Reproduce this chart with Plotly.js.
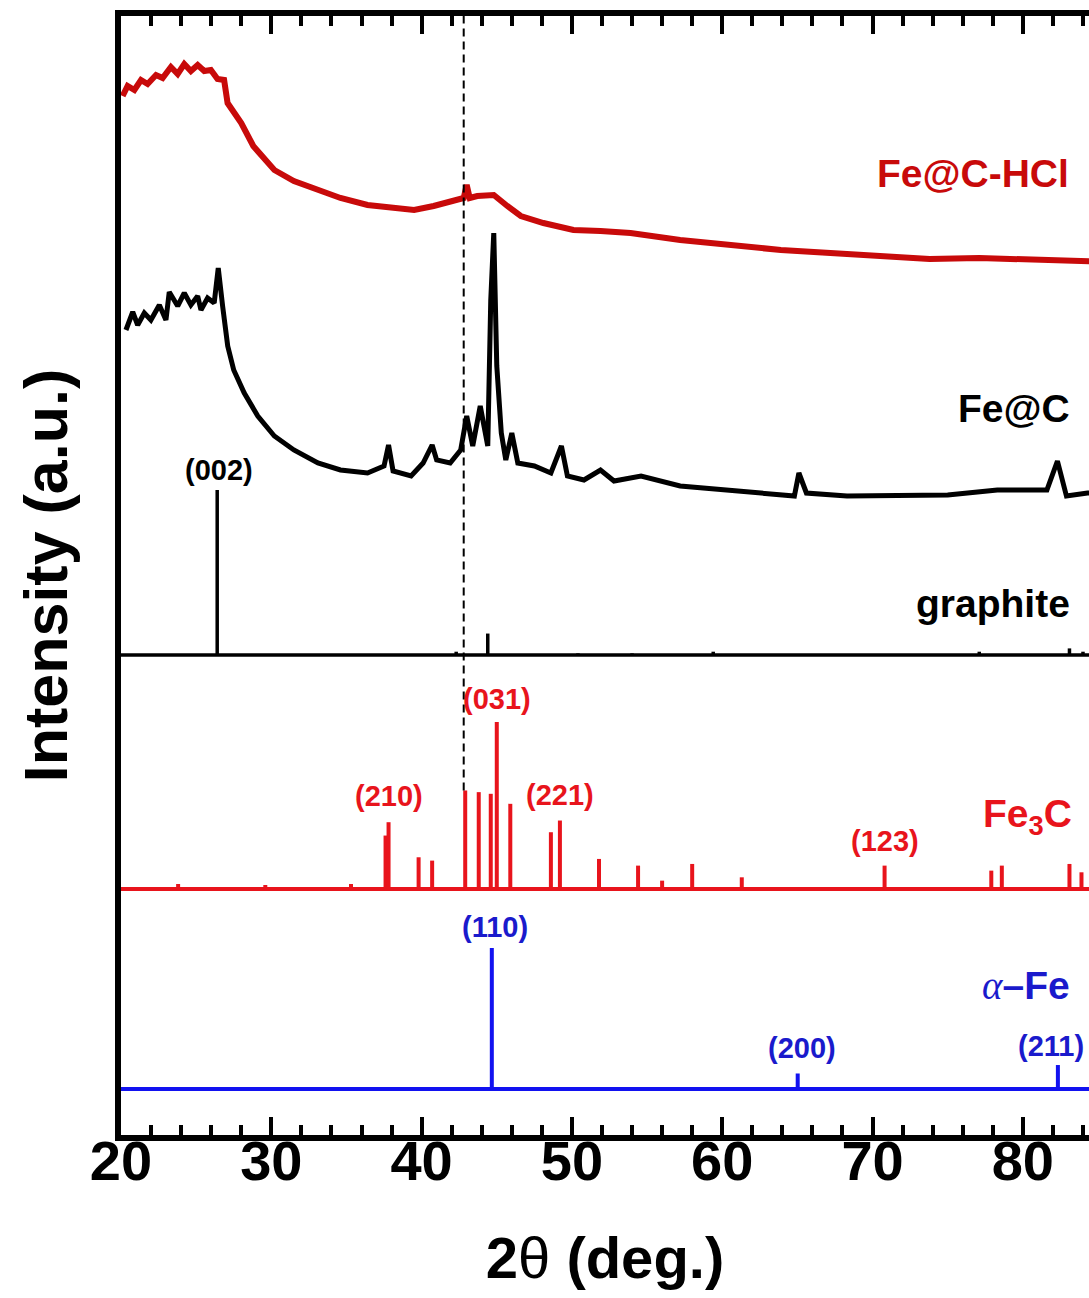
<!DOCTYPE html>
<html><head><meta charset="utf-8">
<script src="https://cdn.plot.ly/plotly-3.0.1.min.js"></script>
<style>html,body{margin:0;padding:0;background:#fff;overflow:hidden}</style>
</head><body><div id="chart" style="width:1089px;height:1298px"></div>
<script>
// ---- Fe@C-HCl measured pattern (2theta, intensity a.u.) ----
const hclTheta = [20.11,20.44,20.89,21.33,21.77,22.33,22.77,23.32,23.77,24.21,24.65,25.10,25.54,25.98,26.42,26.86,27.09,28.0,28.8,30.2,31.5,33.1,34.6,36.4,38.1,39.5,40.8,42.1,42.8,43.0,43.2,43.7,44.8,45.7,46.6,48.1,50.1,51.9,53.9,57.2,60.5,63.9,67.2,70.5,73.8,77.1,80.5,83.8,86.0];
const hclInt   = [1042,1052,1048,1058,1054,1063,1060,1071,1064,1074,1067,1073,1067,1068,1059,1058,1035,1015,992,968,957,948,940,933,930,928,932,937,940,953,940,942,943,932,922,915,908,907,905,898,893,888,885,882,879,880,878,877,876];

// ---- Fe@C measured pattern ----
const fecTheta = [20.33,20.78,21.11,21.55,21.99,22.55,22.99,23.21,23.77,24.21,24.65,25.10,25.32,25.76,26.20,26.47,26.76,27.1,27.5,28.2,29.1,30.2,31.5,33.1,34.6,36.4,37.5,37.8,38.1,39.3,40.1,40.7,41.0,41.9,42.6,43.0,43.4,43.9,44.4,44.6,44.8,45.0,45.3,45.6,46.0,46.4,47.5,48.6,49.3,49.7,50.8,51.9,52.8,54.6,57.2,60.5,63.9,64.8,65.1,65.6,68.3,71.6,75.0,78.3,81.6,82.3,82.9,84.3,86.0];
const fecInt   = [808,826,813,825,818,833,818,846,832,845,833,842,828,840,835,870,832,792,768,745,722,702,688,675,668,665,672,693,667,662,675,693,678,675,688,722,692,732,692,838,905,772,705,678,705,675,672,665,692,662,658,668,657,662,652,648,643,642,665,645,642,643,643,648,648,677,642,645,644];

// ---- Reference stick patterns (2theta, relative intensity %) ----
const graphiteTheta = [26.4,42.3,44.4,50.4,54.0,59.4,77.1,83.1,84.0];
const graphiteRel   = [100,2,13,1,1,2,2,4,2];
const graphiteHkl   = ["(002)"];

const fe3cTheta = [23.8,26.4,29.6,35.3,37.6,37.8,39.8,40.7,42.9,43.8,44.6,45.0,45.9,48.6,49.2,51.8,54.4,56.0,58.0,61.3,70.8,77.9,78.6,83.1,83.9];
const fe3cRel   = [3,1,2.4,3,32,40,19,17,59,58,57,100,51,34,41,18,14,5,15,7,14,11,14,15,10];
const fe3cHkl   = ["(210)","(031)","(221)","(123)"];
const fe3cHklTheta = [37.8,45.0,49.2,70.8];

const feTheta = [44.67,65.02,82.33];
const feRel   = [100,11,17];
const feHkl   = ["(110)","(200)","(211)"];

// ---- stacking (a.u. offsets) ----
const GRAPHITE_BASE = 483, GRAPHITE_SCALE = 1.65;
const FE3C_BASE = 249, FE3C_SCALE = 1.67;
const FE_BASE = 49, FE_SCALE = 1.41;
const DASH_X = 42.8;
const X_MIN = 20, X_MAX = 84.4;

function sticks(th, rel, base, scale){
  const x=[], y=[];
  th.forEach((t,i)=>{ x.push(t,t,null); y.push(base, base+rel[i]*scale, null); });
  return {x,y};
}
function baseline(base){ return {x:[X_MIN, 90], y:[base, base]}; }

const FONT = 'Liberation Sans, Arial, Helvetica, sans-serif';
const RED_DARK = '#c80a0a', RED = '#e8141c', BLUE = '#1212f0', BLUE_TXT = '#1a1acc';

const gS = sticks(graphiteTheta, graphiteRel, GRAPHITE_BASE, GRAPHITE_SCALE);
const cS = sticks(fe3cTheta, fe3cRel, FE3C_BASE, FE3C_SCALE);
const fS = sticks(feTheta, feRel, FE_BASE, FE_SCALE);

const traces = [
  {x:hclTheta, y:hclInt, mode:'lines', line:{color:RED_DARK, width:6}},
  {x:fecTheta, y:fecInt, mode:'lines', line:{color:'#000', width:5}},
  {...baseline(GRAPHITE_BASE), mode:'lines', line:{color:'#000', width:3.5}},
  {...gS, mode:'lines', line:{color:'#000', width:3.5}},
  {...baseline(FE3C_BASE), mode:'lines', line:{color:RED, width:4}},
  {...cS, mode:'lines', line:{color:RED, width:4}},
  {...baseline(FE_BASE), mode:'lines', line:{color:BLUE, width:4}},
  {...fS, mode:'lines', line:{color:BLUE, width:4}}
];

function lab(text, x, y, color, size, xanchor){
  return {text, x, y, xref:'x', yref:'y', showarrow:false, xanchor:xanchor||'center', yanchor:'middle',
          font:{family:FONT, size:size, color:color, weight:'bold'}};
}
const fe3cLabY = [342, 439, 343, 297];
const feLabTheta = [44.9, 65.3, 81.9];
const feLabY = [211, 90, 92];

const annotations = [
  lab('Fe@C-HCl', 83.2, 965, RED_DARK, 39, 'right'),
  lab('Fe@C', 83.3, 730, '#000', 39, 'right'),
  lab('graphite', 83.3, 535, '#000', 39, 'right'),
  lab(graphiteHkl[0], 26.5, 668, '#000', 29),
  lab('Fe<sub>3</sub>C', 83.4, 322, RED, 39, 'right'),
  lab('<span style="font-family:Liberation Serif, Times New Roman, serif;font-style:italic;font-weight:normal">α</span>–Fe', 83.3, 153, BLUE_TXT, 39, 'right')
];
fe3cHkl.forEach((t,i)=>annotations.push(lab(t, fe3cHklTheta[i], fe3cLabY[i], RED, 29)));
feHkl.forEach((t,i)=>annotations.push(lab(t, feLabTheta[i], feLabY[i], BLUE_TXT, 29)));

const layout = {
  width:1089, height:1298,
  margin:{l:121, r:0, t:16, b:163},
  paper_bgcolor:'#fff', plot_bgcolor:'#fff',
  showlegend:false,
  xaxis:{
    range:[X_MIN, X_MAX], dtick:10, tick0:20,
    ticks:'inside', ticklen:18, tickwidth:4, tickcolor:'#000',
    minor:{dtick:2, ticks:'inside', ticklen:10, tickwidth:4, tickcolor:'#000'},
    showline:true, linewidth:6, linecolor:'#000', mirror:'ticks',
    showgrid:false, zeroline:false,
    ticklabelstandoff:-28,
    tickfont:{family:FONT, size:56, color:'#000', weight:'bold'},
    title:{text:'2<span style="font-weight:normal">θ</span> (deg.)', standoff:48,
           font:{family:FONT, size:58, color:'#000', weight:'bold'}}
  },
  yaxis:{
    range:[3, 1122], showticklabels:false, ticks:'',
    showline:true, linewidth:6, linecolor:'#000', mirror:false,
    showgrid:false, zeroline:false,
    title:{text:'Intensity (a.u.)', standoff:30,
           font:{family:FONT, size:61, color:'#000', weight:'bold'}}
  },
  shapes:[{type:'line', xref:'x', yref:'paper', x0:DASH_X, x1:DASH_X, y0:(FE3C_BASE+59*FE3C_SCALE-3)/1119, y1:1,
           line:{color:'#000', width:2, dash:'8px,5px'}}],
  annotations
};
Plotly.newPlot('chart', traces, layout, {displayModeBar:false, staticPlot:true});
</script></body></html>
